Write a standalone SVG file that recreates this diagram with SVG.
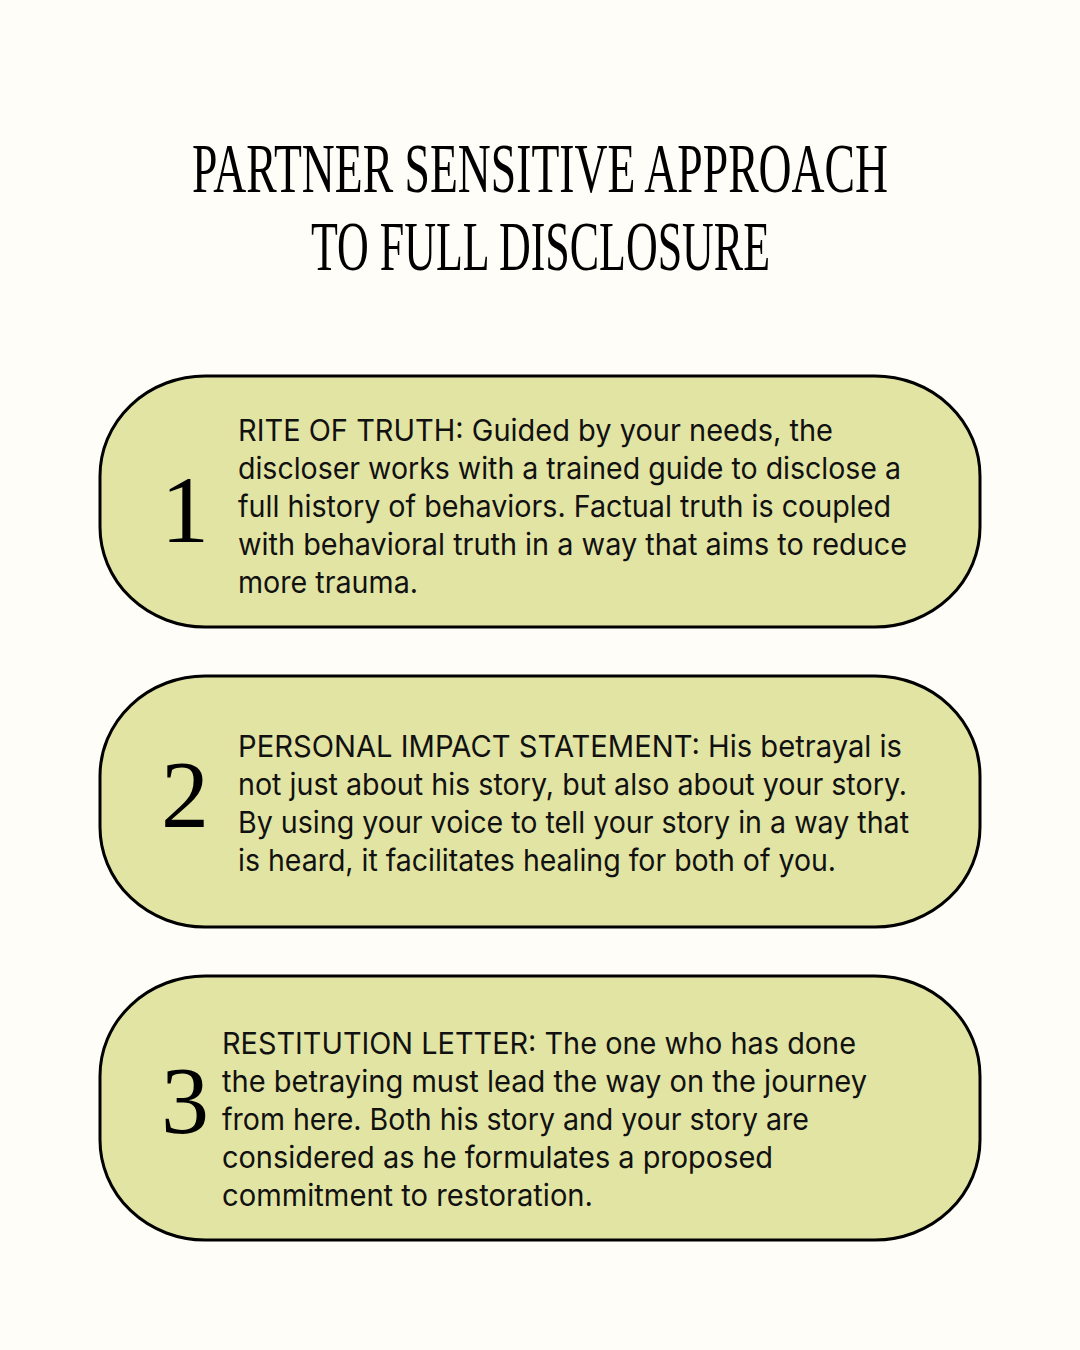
<svg xmlns="http://www.w3.org/2000/svg" width="1080" height="1350" viewBox="0 0 1080 1350">
<style>
.bg{fill:#fefdf7}
.box{fill:#e2e4a3;stroke:#000;stroke-width:3}
.title{font-family:"Liberation Serif",serif;font-size:70px;fill:#000}
.num{font-family:"Liberation Serif",serif;font-size:96px;fill:#000;text-anchor:middle}
.body{font-family:Inter,"Noto Sans",sans-serif;font-size:30px;fill:#111}
</style>
<rect class="bg" x="0" y="0" width="1080" height="1350"/>
<g id="title">
<text class="title" x="192" y="192" textLength="696" lengthAdjust="spacingAndGlyphs">PARTNER SENSITIVE APPROACH</text>
<text class="title" x="311" y="270" textLength="459" lengthAdjust="spacingAndGlyphs">TO FULL DISCLOSURE</text>
</g>
<g id="node1">
<rect class="box" x="100" y="376" width="880" height="251" rx="105" ry="100"/>
<text class="num" x="185" y="542">1</text>
<text class="body" x="238" y="441" textLength="595" lengthAdjust="spacingAndGlyphs">RITE OF TRUTH: Guided by your needs, the</text>
<text class="body" x="238" y="479" textLength="663" lengthAdjust="spacingAndGlyphs">discloser works with a trained guide to disclose a</text>
<text class="body" x="238" y="517" textLength="653" lengthAdjust="spacingAndGlyphs">full history of behaviors. Factual truth is coupled</text>
<text class="body" x="238" y="555" textLength="669" lengthAdjust="spacingAndGlyphs">with behavioral truth in a way that aims to reduce</text>
<text class="body" x="238" y="593" textLength="180" lengthAdjust="spacingAndGlyphs">more trauma.</text>
</g>
<g id="node2">
<rect class="box" x="100" y="676" width="880" height="251" rx="105" ry="100"/>
<text class="num" x="185" y="827">2</text>
<text class="body" x="238" y="757" textLength="664" lengthAdjust="spacingAndGlyphs">PERSONAL IMPACT STATEMENT: His betrayal is</text>
<text class="body" x="238" y="795" textLength="669" lengthAdjust="spacingAndGlyphs">not just about his story, but also about your story.</text>
<text class="body" x="238" y="833" textLength="671" lengthAdjust="spacingAndGlyphs">By using your voice to tell your story in a way that</text>
<text class="body" x="238" y="871" textLength="598" lengthAdjust="spacingAndGlyphs">is heard, it facilitates healing for both of you.</text>
</g>
<g id="node3">
<rect class="box" x="100" y="976" width="880" height="264" rx="105" ry="100"/>
<text class="num" x="185" y="1133">3</text>
<text class="body" x="222" y="1054" textLength="634" lengthAdjust="spacingAndGlyphs">RESTITUTION LETTER: The one who has done</text>
<text class="body" x="222" y="1092" textLength="645" lengthAdjust="spacingAndGlyphs">the betraying must lead the way on the journey</text>
<text class="body" x="222" y="1130" textLength="587" lengthAdjust="spacingAndGlyphs">from here. Both his story and your story are</text>
<text class="body" x="222" y="1168" textLength="551" lengthAdjust="spacingAndGlyphs">considered as he formulates a proposed</text>
<text class="body" x="222" y="1206" textLength="371" lengthAdjust="spacingAndGlyphs">commitment to restoration.</text>
</g>
<g id="connectors"/>
</svg>
